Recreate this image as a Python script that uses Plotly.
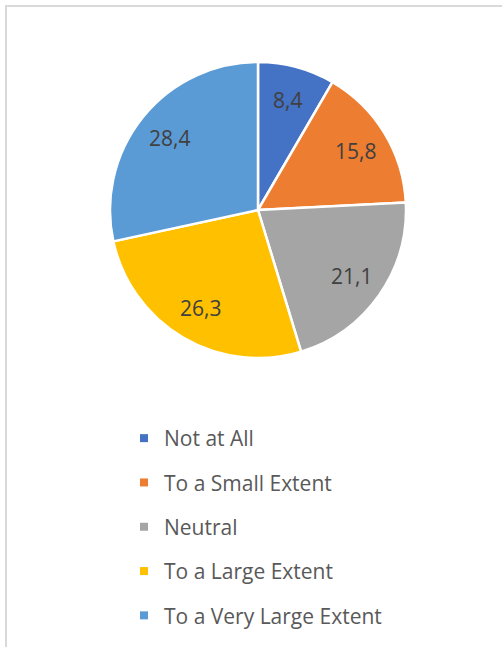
import math
import plotly.graph_objects as go

categories = ["Not at All", "To a Small Extent", "Neutral", "To a Large Extent", "To a Very Large Extent"]
values = [8.4, 15.8, 21.1, 26.3, 28.4]
colors = ["#4472C4", "#ED7D31", "#A5A5A5", "#FFC000", "#5B9BD5"]

W, H = 502, 647
# pie placement in pixels
CX, CY, R = 258, 210, 148
LABEL_RADIUS = 0.77

fig = go.Figure()

fig.add_trace(go.Pie(
    labels=categories,
    values=values,
    sort=False,
    direction="clockwise",
    rotation=0,
    marker=dict(colors=colors, line=dict(color="white", width=2.5)),
    textinfo="none",
    hoverinfo="label+value",
    showlegend=False,
    domain=dict(x=[(CX - R) / W, (CX + R) / W], y=[1 - (CY + R) / H, 1 - (CY - R) / H]),
))

# value labels placed along each slice's bisector
total = sum(values)
annotations = []
cum = 0.0
for v in values:
    mid = (cum + v / 2) / total * 2 * math.pi
    cum += v
    px = CX + LABEL_RADIUS * R * math.sin(mid)
    py = CY - LABEL_RADIUS * R * math.cos(mid)
    annotations.append(dict(
        x=px / W, y=1 - py / H, xref="paper", yref="paper",
        text=f"{v:.1f}".replace(".", ","), showarrow=False,
        xanchor="center", yanchor="middle",
        font=dict(family="Open Sans", size=21, color="#404040"),
    ))

# legend entries: one square marker per category, each in its own group for spacing
for name, col in zip(categories, colors):
    fig.add_trace(go.Scatter(
        x=[None], y=[None], mode="markers", name=name,
        marker=dict(symbol="square", size=8, color=col),
        legendgroup=name, showlegend=True,
    ))

fig.update_layout(
    width=W, height=H,
    margin=dict(l=0, r=0, t=0, b=0),
    paper_bgcolor="white",
    plot_bgcolor="white",
    xaxis=dict(visible=False),
    yaxis=dict(visible=False),
    annotations=annotations,
    legend=dict(
        x=124 / W, y=1 - 418 / H, xanchor="left", yanchor="top",
        font=dict(family="Open Sans", size=21, color="#595959"),
        tracegroupgap=14,
        itemsizing="trace",
        bgcolor="rgba(0,0,0,0)",
    ),
    shapes=[dict(
        type="rect", xref="paper", yref="paper",
        x0=6 / W, x1=1.05, y0=-0.05, y1=1 - 6 / H,
        line=dict(color="#D9D9D9", width=2),
    )],
)

fig.write_html("out.html")
